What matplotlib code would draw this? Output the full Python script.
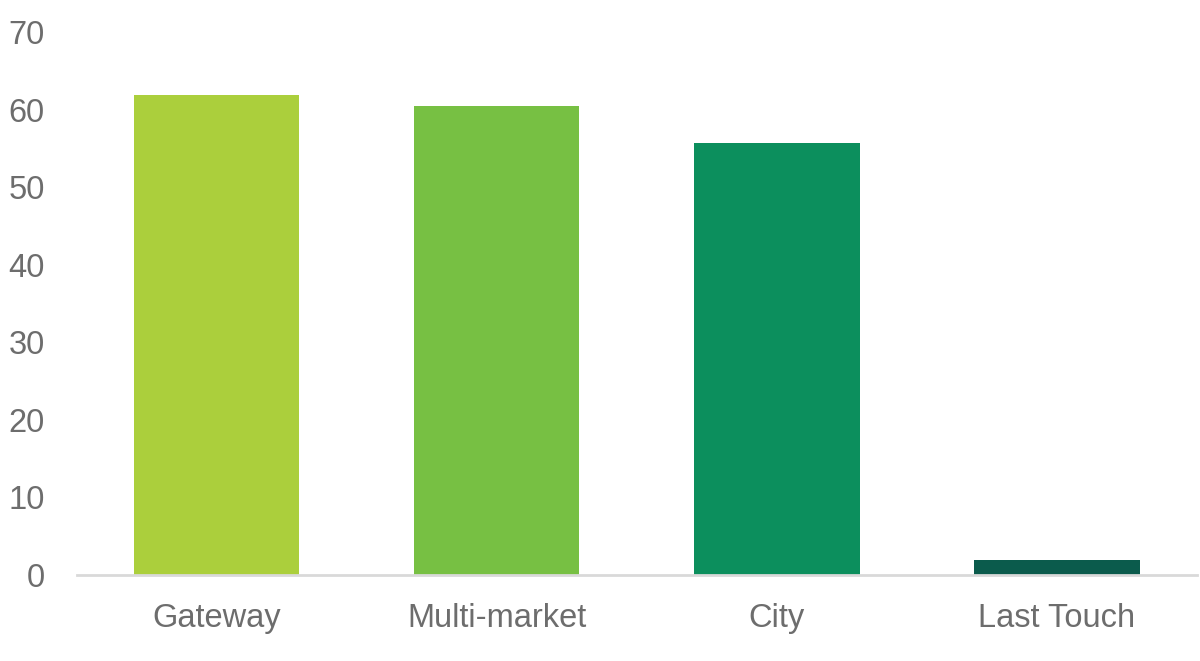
import matplotlib
matplotlib.use("Agg")
import matplotlib.pyplot as plt

# data
categories = ["Gateway", "Multi-market", "City", "Last Touch"]
values = [61.9, 60.5, 55.7, 2.0]
colors = ["#abcf3c", "#77c043", "#0c8f5d", "#0b5b4c"]
yticks = [0, 10, 20, 30, 40, 50, 60, 70]

plt.rcParams["font.family"] = ["Liberation Sans", "DejaVu Sans"]
text_color = "#6d6d6d"

fig = plt.figure(figsize=(12, 6.61), dpi=100)
ax = fig.add_axes([0.064, 0.130, 0.9335, 0.8216])

x = range(len(categories))
ax.bar(x, values, width=0.59, color=colors, zorder=2)

ax.set_xlim(-0.5, len(categories) - 0.5)
ax.set_ylim(0, 70)
ax.set_yticks(yticks)
ax.set_xticks(list(x))
ax.set_xticklabels(categories)

for side in ["top", "right", "left"]:
    ax.spines[side].set_visible(False)
ax.spines["bottom"].set_color("#d9d9d9")
ax.spines["bottom"].set_linewidth(2)

ax.tick_params(axis="y", length=0, pad=23, labelsize=23.5, labelcolor=text_color)
ax.tick_params(axis="x", length=0, pad=20, labelsize=23.5, labelcolor=text_color)

fig.savefig("out.png", dpi=100)
